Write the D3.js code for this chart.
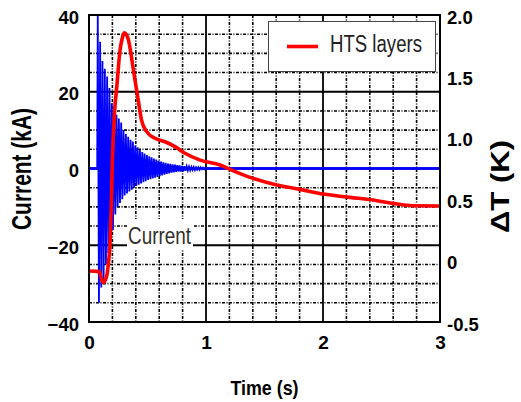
<!DOCTYPE html>
<html>
<head>
<meta charset="utf-8">
<script src="https://cdn.jsdelivr.net/npm/d3@7"></script>
<style>
    body { margin: 0; background: #fff; }
    svg { display: block; font-family: Arial, "Liberation Sans", sans-serif; }
</style>
</head>
<body>
<div class="chart"></div>
<script>
// axis ticks
const timeTicks = [0, 1, 2, 3];
const timeMinor = [0.2, 0.4, 0.6, 0.8, 1.2, 1.4, 1.6, 1.8, 2.2, 2.4, 2.6, 2.8];
const currentTicks = [-40, -20, 0, 20, 40];
const currentMinor = [-35, -30, -25, -15, -10, -5, 5, 10, 15, 25, 30, 35];
const deltaTTicks = [-0.5, 0, 0.5, 1.0, 1.5, 2.0];
const deltaTLabels = ['-0.5', '0', '0.5', '1.0', '1.5', '2.0'];

// current (kA) vs time (s)
const currentTime = [0, 0.07,
    0.075, 0.085, 0.095, 0.105, 0.115, 0.125, 0.135, 0.145, 0.155, 0.165,
    0.175, 0.185, 0.195, 0.205, 0.215, 0.225, 0.235, 0.245, 0.255, 0.265,
    0.275, 0.285, 0.295, 0.305, 0.315, 0.325, 0.335, 0.345, 0.355, 0.365,
    0.375, 0.385, 0.395, 0.405, 0.415, 0.425, 0.435, 0.445, 0.455, 0.465,
    0.475, 0.485, 0.495, 0.505, 0.515, 0.525, 0.535, 0.545, 0.555, 0.565,
    0.575, 0.585, 0.595, 0.605, 0.615, 0.625, 0.635, 0.645, 0.655, 0.665,
    0.675, 0.685, 0.695, 0.705, 0.715, 0.725, 0.735, 0.745, 0.755, 0.765,
    0.775, 0.785, 0.795, 0.805, 0.815, 0.825, 0.835, 0.845, 0.855, 0.865,
    0.875, 0.885, 0.895, 0.905, 0.915, 0.925, 0.935, 0.945, 0.955, 0.965,
    0.975, 0.985, 0.995,
    1.0, 3.0];
const currentKA = [0, 0,
    40, -35, 33, -31, 28, -29, 26, -25, 24, -22,
    21, -18, 17, -16, 15, -12, 14, -10, 13, -9,
    12, -8, 10, -7, 9, -6.5, 8.3, -6, 7.5, -5.5,
    7, -5, 6, -4.5, 5.5, -4.2, 4.9, -3.9, 4.3, -3.6,
    3.9, -3.3, 3.5, -3.0, 3.2, -2.8, 2.9, -2.6, 2.6, -2.4,
    2.3, -2.2, 2.0, -2.0, 1.8, -1.8, 1.6, -1.6, 1.5, -1.4,
    1.3, -1.3, 1.2, -1.1, 1.1, -1.0, 1.0, -0.9, 0.9, -0.8,
    0.8, -0.8, 0.7, -0.7, 0.6, -0.6, 0.6, -0.5, 0.5, -0.5,
    0.4, -0.4, 0.4, -0.4, 0.3, -0.3, 0.3, -0.3, 0.3, -0.2,
    0.2, -0.2, 0.2,
    0, 0];

// HTS layers temperature rise (K)
const htsTime = [0, 0.09, 0.11, 0.122, 0.15, 0.165, 0.18, 0.19, 0.2, 0.22,
    0.236, 0.265, 0.29, 0.302, 0.32, 0.336, 0.38, 0.42, 0.45, 0.493,
    0.564, 0.65, 0.735, 0.82, 0.95, 1.12, 1.205, 1.376, 1.604, 1.803,
    2.003, 2.231, 2.427, 2.598, 2.769, 3.0];
const htsDeltaT = [-0.085, -0.09, -0.16, -0.18, -0.13, -0.03, 0.15, 0.42, 0.82, 1.23,
    1.40, 1.71, 1.83, 1.856, 1.84, 1.80, 1.55, 1.31, 1.14, 1.05,
    0.996, 0.968, 0.928, 0.874, 0.818, 0.778, 0.743, 0.678, 0.616, 0.58,
    0.542, 0.515, 0.493, 0.466, 0.447, 0.445];

const width = 521, height = 402;
const plotLeft = 89, plotRight = 440, plotTop = 15, plotBottom = 322;

const svg = d3.select('.chart')
    .append('svg')
        .attr('width', width)
        .attr('height', height);

const x = d3.scaleLinear().domain([0, 3]).range([plotLeft, plotRight]);
const yCur = d3.scaleLinear().domain([-40, 40]).range([plotBottom, plotTop]);
const yDT = d3.scaleLinear().domain([-0.5, 2]).range([plotBottom, plotTop]);

function fitText(selection, size, length) {
    selection.attr('font-size', size);
    if (length) selection.attr('textLength', length).attr('lengthAdjust', 'spacingAndGlyphs');
}

// grid
const grid = svg.append('g');
grid.selectAll('.vminor').data(timeMinor).enter().append('line')
    .attr('x1', d => x(d)).attr('x2', d => x(d))
    .attr('y1', plotTop).attr('y2', plotBottom)
    .attr('stroke', '#000').attr('stroke-width', 1.6)
    .attr('stroke-dasharray', '3,1.5,1,1.5');
grid.selectAll('.hminor').data(currentMinor).enter().append('line')
    .attr('x1', plotLeft).attr('x2', plotRight)
    .attr('y1', d => yCur(d)).attr('y2', d => yCur(d))
    .attr('stroke', '#000').attr('stroke-width', 1.6)
    .attr('stroke-dasharray', '3,1.5,1,1.5');
grid.selectAll('.vmajor').data(timeTicks.slice(1, -1)).enter().append('line')
    .attr('x1', d => x(d)).attr('x2', d => x(d))
    .attr('y1', plotTop).attr('y2', plotBottom)
    .attr('stroke', '#000').attr('stroke-width', 1.8);
grid.selectAll('.hmajor').data(currentTicks.slice(1, -1)).enter().append('line')
    .attr('x1', plotLeft).attr('x2', plotRight)
    .attr('y1', d => yCur(d)).attr('y2', d => yCur(d))
    .attr('stroke', '#000').attr('stroke-width', 1.8);

// "Current" annotation with white backing
svg.append('rect')
    .attr('x', 127).attr('y', 219).attr('width', 66).attr('height', 31)
    .attr('fill', '#fff');
svg.append('text')
    .attr('x', 128).attr('y', 243.5)
    .attr('fill', '#33302a')
    .text('Current')
    .call(fitText, 23, 63);

// series
const current = currentTime.map((t, i) => ({ t: t, v: currentKA[i] }));
const hts = htsTime.map((t, i) => ({ t: t, v: htsDeltaT[i] }));

const curLine = d3.line().x(d => x(d.t)).y(d => yCur(d.v));
svg.append('path')
    .datum(current)
    .attr('d', curLine)
    .attr('fill', 'none')
    .attr('stroke', '#0000ff')
    .attr('stroke-width', 1.8);
svg.append('path')
    .datum(current)
    .attr('d', curLine.defined(d => d.t <= 0.07 || d.t >= 1.0))
    .attr('fill', 'none')
    .attr('stroke', '#0000ff')
    .attr('stroke-width', 2.6);

svg.append('path')
    .datum(hts)
    .attr('d', d3.line().x(d => x(d.t)).y(d => yDT(d.v)).curve(d3.curveMonotoneX))
    .attr('fill', 'none')
    .attr('stroke', '#ff0000')
    .attr('stroke-width', 3.6)
    .attr('stroke-linejoin', 'round');

// frame
svg.append('rect')
    .attr('x', plotLeft).attr('y', plotTop)
    .attr('width', plotRight - plotLeft).attr('height', plotBottom - plotTop)
    .attr('fill', 'none').attr('stroke', '#000').attr('stroke-width', 2);

// axes
const xAxis = svg.append('g')
    .attr('transform', `translate(0,${plotBottom})`)
    .call(d3.axisBottom(x).tickValues(timeTicks).tickFormat(d3.format('d')).tickSize(0));
xAxis.select('.domain').remove();
xAxis.selectAll('text').attr('y', 27).attr('dy', null)
    .attr('fill', '#000').attr('font-weight', 'bold').call(fitText, 19);

const yAxis = svg.append('g')
    .attr('transform', `translate(${plotLeft},0)`)
    .call(d3.axisLeft(yCur).tickValues(currentTicks).tickSize(0));
yAxis.select('.domain').remove();
yAxis.selectAll('text').attr('x', -10).attr('y', 8.2).attr('dy', null)
    .attr('fill', '#000').attr('font-weight', 'bold').call(fitText, 18.5);

const y2Axis = svg.append('g')
    .attr('transform', `translate(${plotRight},0)`)
    .call(d3.axisRight(yDT).tickValues(deltaTTicks).tickFormat((d, i) => deltaTLabels[i]).tickSize(0));
y2Axis.select('.domain').remove();
y2Axis.selectAll('text').attr('x', 7).attr('y', 8).attr('dy', null)
    .attr('fill', '#000').attr('font-weight', 'bold').call(fitText, 18.5);

// axis titles
svg.append('text')
    .attr('x', (plotLeft + plotRight) / 2).attr('y', 395)
    .attr('text-anchor', 'middle').attr('font-weight', 'bold')
    .text('Time (s)')
    .call(fitText, 21, 68);
svg.append('text')
    .attr('transform', 'translate(31,169) rotate(-90)')
    .attr('text-anchor', 'middle').attr('font-weight', 'bold')
    .text('Current (kA)')
    .call(fitText, 27, 122);
svg.append('text')
    .attr('transform', 'translate(509,186.5) rotate(-90)')
    .attr('text-anchor', 'middle').attr('font-weight', 'bold')
    .text('ΔT (K)')
    .call(fitText, 25, 93);

// legend
const legend = svg.append('g');
legend.append('rect')
    .attr('x', 268.5).attr('y', 21.5).attr('width', 167).attr('height', 50)
    .attr('fill', '#fff').attr('stroke', '#444').attr('stroke-width', 1);
legend.append('line')
    .attr('x1', 287).attr('x2', 318).attr('y1', 46.5).attr('y2', 46.5)
    .attr('stroke', '#ff0000').attr('stroke-width', 3.6);
legend.append('text')
    .attr('x', 330).attr('y', 52)
    .attr('fill', '#222')
    .text('HTS layers')
    .call(fitText, 23, 92);
</script>
</body>
</html>
